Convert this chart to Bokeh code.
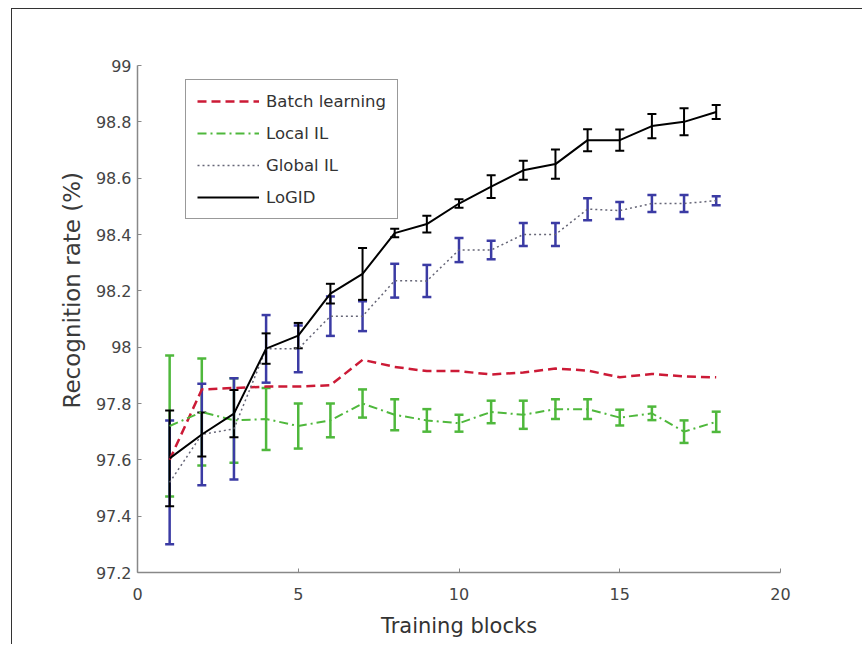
from bokeh.plotting import figure
from bokeh.models import (ColumnDataSource, Whisker, TeeHead, FixedTicker, Range1d,
                          Legend, LegendItem, Title)
from bokeh.embed import file_html
from bokeh.resources import INLINE

blocks = list(range(1, 19))
batch = [97.60, 97.85, 97.855, 97.86, 97.86, 97.865, 97.955, 97.93, 97.915, 97.915,
         97.903, 97.91, 97.924, 97.917, 97.893, 97.905, 97.896, 97.893]
local_il = [97.72, 97.77, 97.74, 97.745, 97.72, 97.74, 97.80, 97.76, 97.74, 97.73,
            97.77, 97.76, 97.78, 97.78, 97.75, 97.765, 97.70, 97.735]
local_err = [0.25, 0.19, 0.15, 0.11, 0.08, 0.06, 0.05, 0.055, 0.04, 0.03,
             0.04, 0.05, 0.035, 0.035, 0.028, 0.024, 0.04, 0.036]
global_il = [97.52, 97.69, 97.71, 97.994, 97.994, 98.11, 98.11, 98.236, 98.235, 98.345,
             98.345, 98.40, 98.40, 98.49, 98.485, 98.51, 98.51, 98.52]
global_err = [0.22, 0.18, 0.18, 0.12, 0.083, 0.07, 0.053, 0.06, 0.057, 0.043,
              0.033, 0.041, 0.041, 0.039, 0.03, 0.03, 0.03, 0.016]
logid = [97.605, 97.69, 97.764, 97.995, 98.041, 98.19, 98.26, 98.405, 98.437, 98.51,
         98.57, 98.628, 98.65, 98.735, 98.735, 98.785, 98.80, 98.835]
logid_err = [0.17, 0.078, 0.084, 0.054, 0.045, 0.035, 0.092, 0.015, 0.03, 0.015,
             0.04, 0.034, 0.052, 0.039, 0.038, 0.043, 0.048, 0.025]

x_ticks = [0, 5, 10, 15, 20]
y_ticks = [97.2, 97.4, 97.6, 97.8, 98.0, 98.2, 98.4, 98.6, 98.8, 99.0]
y_tick_labels = ["97.2", "97.4", "97.6", "97.8", "98", "98.2", "98.4", "98.6", "98.8", "99"]
x_title = "Training blocks"
y_title = "Recognition rate (%)"

RED = "#cc1a36"
GREEN = "#4fb83c"
BLUE = "#3b3ba4"
GRAY = "#666677"
FONT = "DejaVu Sans"

p = figure(width=851, height=636, output_backend="svg", toolbar_location=None,
           x_range=Range1d(0, 20), y_range=Range1d(97.2, 99.0),
           min_border_left=125, min_border_right=83, min_border_top=56, min_border_bottom=73)
p.margin = (8, 0, 0, 11)
p.styles = {"border-top": "1px solid #333", "border-left": "1px solid #333"}
p.outline_line_color = None
p.xgrid.visible = False
p.ygrid.visible = False

def make_src(vals, errs=None):
    d = dict(x=blocks, y=vals)
    if errs is not None:
        d["upper"] = [v + e for v, e in zip(vals, errs)]
        d["lower"] = [v - e for v, e in zip(vals, errs)]
    return ColumnDataSource(d)

src_b = make_src(batch)
src_l = make_src(local_il, local_err)
src_g = make_src(global_il, global_err)
src_o = make_src(logid, logid_err)

for src, col, lw in [(src_l, GREEN, 2.5), (src_g, BLUE, 2.5), (src_o, "black", 2)]:
    w = Whisker(source=src, base="x", upper="upper", lower="lower",
                line_color=col, line_width=lw,
                upper_head=TeeHead(size=9, line_color=col, line_width=lw),
                lower_head=TeeHead(size=9, line_color=col, line_width=lw))
    p.add_layout(w)

r_b = p.line("x", "y", source=src_b, line_color=RED, line_width=2.5, line_dash="9 5")
r_l = p.line("x", "y", source=src_l, line_color=GREEN, line_width=2, line_dash="9 4 2 4")
r_g = p.line("x", "y", source=src_g, line_color=GRAY, line_width=1.5, line_dash="2 3")
r_o = p.line("x", "y", source=src_o, line_color="black", line_width=2)

legend = Legend(items=[LegendItem(label="Batch learning", renderers=[r_b]),
                       LegendItem(label="Local IL", renderers=[r_l]),
                       LegendItem(label="Global IL", renderers=[r_g]),
                       LegendItem(label="LoGID", renderers=[r_o])],
                location=(48, 353))
legend.border_line_color = "#333333"
legend.border_line_width = 1
legend.background_fill_color = "white"
legend.background_fill_alpha = 1
legend.label_text_font = FONT
legend.label_text_font_size = "16.5px"
legend.label_text_color = "#333333"
legend.glyph_width = 62
legend.glyph_height = 20
legend.label_height = 20
legend.spacing = 12
legend.padding = 11
legend.label_standoff = 7
legend.margin = 0
p.add_layout(legend)

p.xaxis.ticker = FixedTicker(ticks=x_ticks)
p.yaxis.ticker = FixedTicker(ticks=y_ticks)
p.yaxis.major_label_overrides = {t: l for t, l in zip(y_ticks, y_tick_labels)}
for ax in (p.xaxis, p.yaxis):
    ax.axis_line_color = "#888888"
    ax.axis_line_width = 1.5
    ax.major_tick_line_color = "#888888"
    ax.major_tick_in = 4
    ax.major_tick_out = 0
    ax.minor_tick_line_color = None
    ax.major_label_text_font = FONT
    ax.major_label_text_font_size = "16px"
    ax.major_label_text_color = "#444444"
    ax.axis_label_text_font = FONT
    ax.axis_label_text_font_size = "21px"
    ax.axis_label_text_font_style = "normal"
    ax.axis_label_text_color = "#333333"
p.xaxis.axis_label = x_title
p.xaxis.major_label_standoff = 15
p.yaxis.major_label_standoff = 6
p.xaxis.axis_label_standoff = 11

ytitle = Title(text=y_title, align="left", offset=164, standoff=16,
               text_font=FONT, text_font_size="23px", text_font_style="normal",
               text_color="#3a3a3a")
p.add_layout(ytitle, "left")

open("out.html", "w").write(file_html(p, INLINE))
